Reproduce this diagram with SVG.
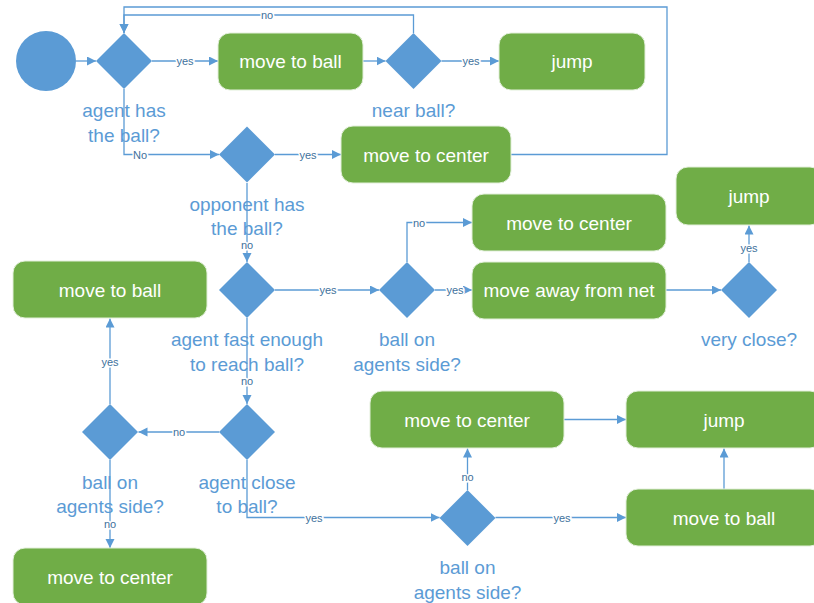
<svg xmlns="http://www.w3.org/2000/svg" width="814" height="603" viewBox="0 0 814 603">
<style>
.box{fill:#70AD47;stroke:#E2EFDA;stroke-width:1}
.dia{fill:#5B9BD5}
.bt{font-family:"Liberation Sans",Arial,sans-serif;font-size:19px;fill:#fff;text-anchor:middle}
.ct{font-family:"Liberation Sans",Arial,sans-serif;font-size:19px;fill:#5B9BD5;text-anchor:middle}
.el{font-family:"Liberation Sans",Arial,sans-serif;font-size:11px;fill:#41719C;text-anchor:middle;stroke:#fff;stroke-width:3px;paint-order:stroke}
.cn{fill:none;stroke:#5B9BD5;stroke-width:1.3;marker-end:url(#ah)}
</style>
<defs>
<marker id="ah" markerUnits="userSpaceOnUse" markerWidth="10" markerHeight="10" refX="9" refY="4.5" orient="auto">
<path d="M0,0 L9,4.5 L0,9 z" fill="#5B9BD5"/>
</marker>
</defs>
<rect width="814" height="603" fill="#fff"/>
<g id="connectors">
<path class="cn" d="M76,61 H96"/>
<path class="cn" d="M152,61 H218"/>
<path class="cn" d="M363,61 H385.5"/>
<path class="cn" d="M441.5,61 H499"/>
<path class="cn" d="M413.5,33 V15 H124 V33"/>
<path class="cn" d="M511,154.5 H667 V7 H124 V33"/>
<path class="cn" d="M124,89 V154.5 H219"/>
<path class="cn" d="M275,154.5 H341"/>
<path class="cn" d="M247,183 V262"/>
<path class="cn" d="M275,290 H379"/>
<path class="cn" d="M407,262 V222.5 H472"/>
<path class="cn" d="M435,290 H472"/>
<path class="cn" d="M666,290 H721"/>
<path class="cn" d="M749,262 V225.5"/>
<path class="cn" d="M247,318 V404"/>
<path class="cn" d="M219,432 H138.5"/>
<path class="cn" d="M110,404 V318.5"/>
<path class="cn" d="M110,460 V548"/>
<path class="cn" d="M247,460 V517.5 H439.5"/>
<path class="cn" d="M467.5,490 V448.5"/>
<path class="cn" d="M495.5,517.5 H626"/>
<path class="cn" d="M564,419.5 H626"/>
<path class="cn" d="M724,489 V448.5"/>
<text class="el" x="185" y="65">yes</text>
<text class="el" x="471" y="65">yes</text>
<text class="el" x="267" y="19">no</text>
<text class="el" x="140" y="158.5">No</text>
<text class="el" x="308" y="158.5">yes</text>
<text class="el" x="247" y="249">no</text>
<text class="el" x="328" y="294">yes</text>
<text class="el" x="419" y="226.5">no</text>
<text class="el" x="455" y="294">yes</text>
<text class="el" x="749" y="252">yes</text>
<text class="el" x="247" y="385">no</text>
<text class="el" x="179" y="436">no</text>
<text class="el" x="110" y="366">yes</text>
<text class="el" x="110" y="528">no</text>
<text class="el" x="314" y="521.5">yes</text>
<text class="el" x="467.5" y="481">no</text>
<text class="el" x="562" y="521.5">yes</text>
</g>
<g id="start"><circle cx="46" cy="61" r="30" fill="#5B9BD5"/></g>
<g id="d1"><path class="dia" d="M124,33 L152,61 L124,89 L96,61 z"/>
<text class="ct" x="124" y="117">agent has</text><text class="ct" x="124" y="141.5">the ball?</text></g>
<g id="b1"><rect class="box" x="218" y="33" width="145" height="57" rx="12"/><text class="bt" x="290.5" y="68">move to ball</text></g>
<g id="d2"><path class="dia" d="M413.5,33 L441.5,61 L413.5,89 L385.5,61 z"/>
<text class="ct" x="413.5" y="117">near ball?</text></g>
<g id="b2"><rect class="box" x="499" y="33" width="146" height="57" rx="12"/><text class="bt" x="572" y="68">jump</text></g>
<g id="d3"><path class="dia" d="M247,126.5 L275,154.5 L247,182.5 L219,154.5 z"/>
<text class="ct" x="247" y="210.5">opponent has</text><text class="ct" x="247" y="234.5">the ball?</text></g>
<g id="b3"><rect class="box" x="341" y="126" width="170" height="57" rx="12"/><text class="bt" x="426" y="161.5">move to center</text></g>
<g id="d4"><path class="dia" d="M247,262 L275,290 L247,318 L219,290 z"/>
<text class="ct" x="247" y="346">agent fast enough</text><text class="ct" x="247" y="370.5">to reach ball?</text></g>
<g id="b4"><rect class="box" x="13" y="261" width="194" height="57" rx="12"/><text class="bt" x="110" y="296.5">move to ball</text></g>
<g id="d5"><path class="dia" d="M407,262 L435,290 L407,318 L379,290 z"/>
<text class="ct" x="407" y="346">ball on</text><text class="ct" x="407" y="370.5">agents side?</text></g>
<g id="b5"><rect class="box" x="472" y="194" width="194" height="57" rx="12"/><text class="bt" x="569" y="229.5">move to center</text></g>
<g id="b6"><rect class="box" x="472" y="262" width="194" height="57" rx="12"/><text class="bt" x="569" y="297">move away from net</text></g>
<g id="d6"><path class="dia" d="M749,262 L777,290 L749,318 L721,290 z"/>
<text class="ct" x="749" y="346">very close?</text></g>
<g id="b7"><rect class="box" x="676" y="167" width="146" height="58" rx="12"/><text class="bt" x="749" y="203">jump</text></g>
<g id="d7"><path class="dia" d="M247,404 L275,432 L247,460 L219,432 z"/>
<text class="ct" x="247" y="488.5">agent close</text><text class="ct" x="247" y="513">to ball?</text></g>
<g id="d8"><path class="dia" d="M110,404 L138,432 L110,460 L82,432 z"/>
<text class="ct" x="110" y="488.5">ball on</text><text class="ct" x="110" y="513">agents side?</text></g>
<g id="b8"><rect class="box" x="13" y="548" width="194" height="57" rx="12"/><text class="bt" x="110" y="584">move to center</text></g>
<g id="d9"><path class="dia" d="M467.5,490 L495.5,518 L467.5,546 L439.5,518 z"/>
<text class="ct" x="467.5" y="574">ball on</text><text class="ct" x="467.5" y="598.5">agents side?</text></g>
<g id="b9"><rect class="box" x="370" y="391" width="194" height="57" rx="12"/><text class="bt" x="467" y="426.5">move to center</text></g>
<g id="b10"><rect class="box" x="626" y="391" width="196" height="57" rx="12"/><text class="bt" x="724" y="426.5">jump</text></g>
<g id="b11"><rect class="box" x="626" y="489" width="196" height="57" rx="12"/><text class="bt" x="724" y="524.5">move to ball</text></g>
</svg>
